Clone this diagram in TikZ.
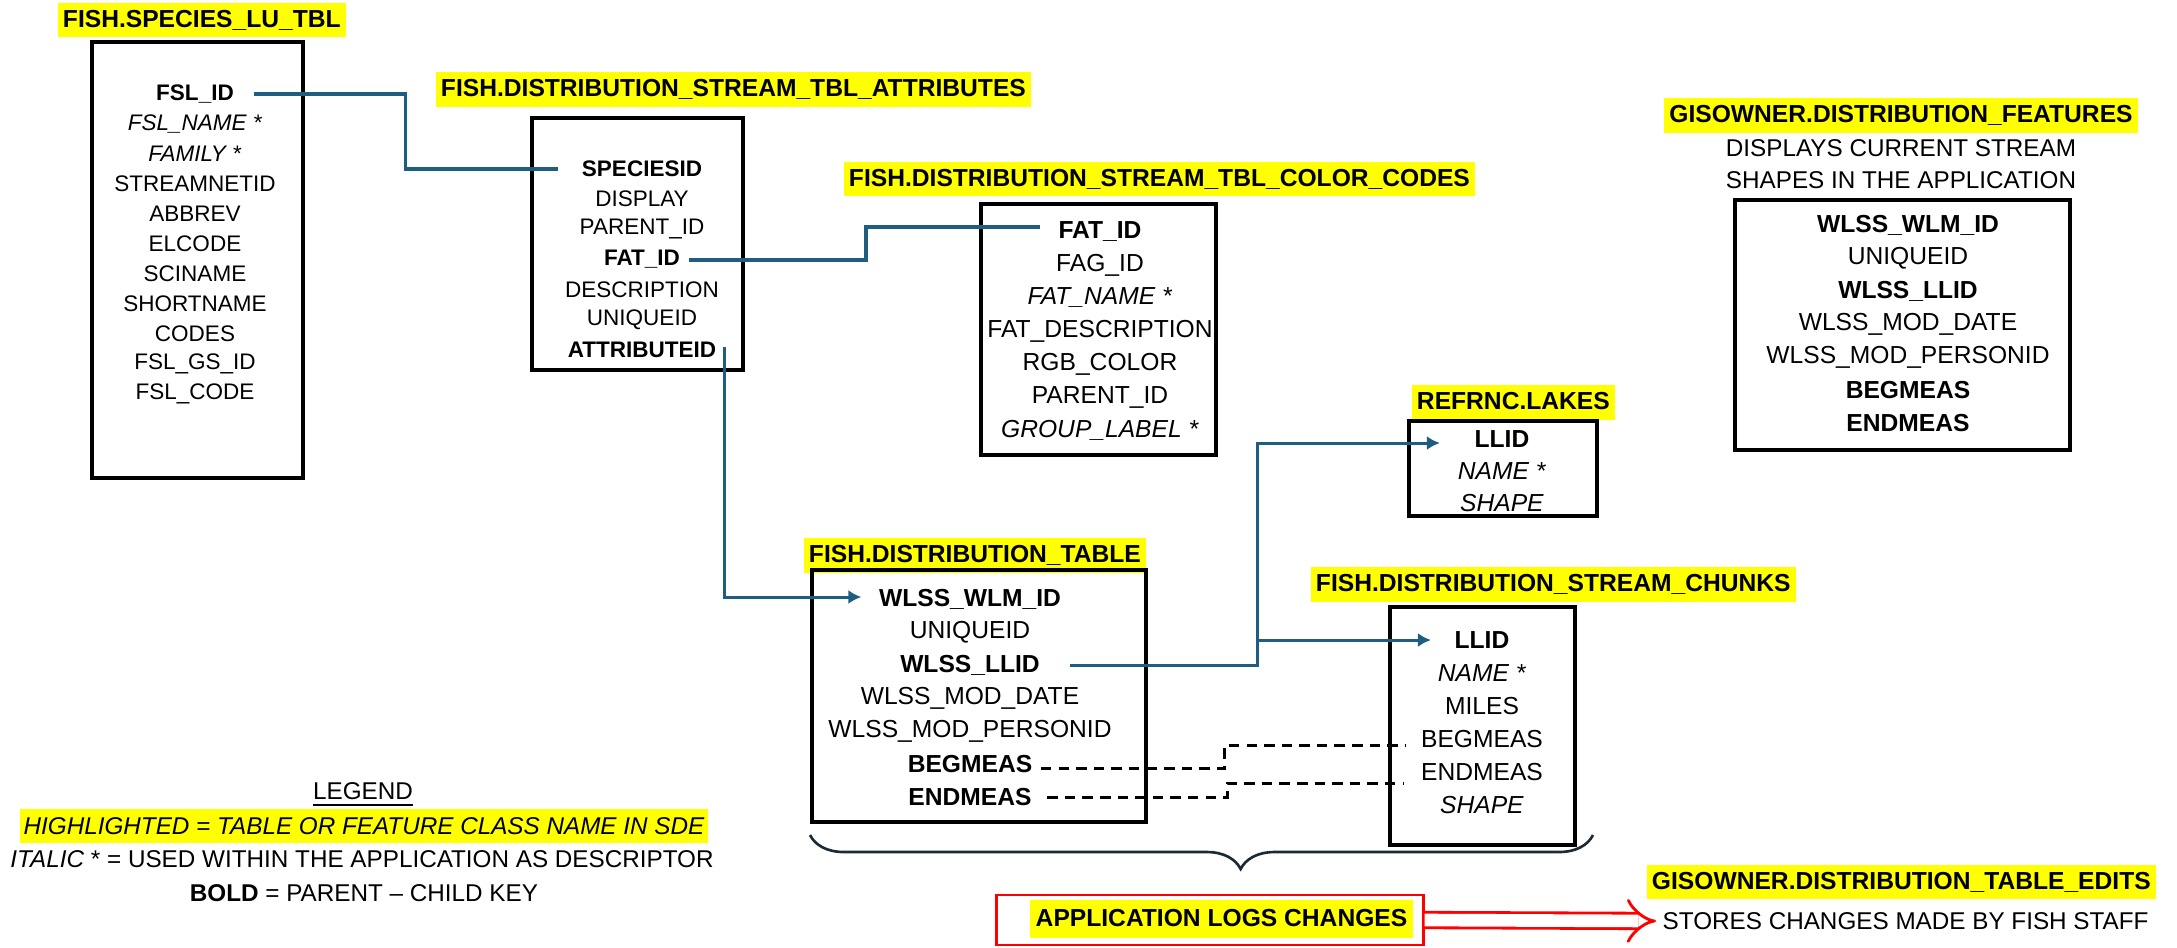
\documentclass[tikz,border=0pt]{standalone}
\usepackage{fontspec}
\setmainfont{Liberation Sans}
\usetikzlibrary{arrows.meta,positioning,calc,decorations.pathreplacing}
\definecolor{keyblue}{RGB}{31,94,128}
\definecolor{bracegray}{RGB}{27,42,52}
\definecolor{hlyellow}{RGB}{255,255,0}

\begin{document}
\begin{tikzpicture}[x=0.01cm,y=-0.01cm,
  tbl/.style={draw,line width=1.2pt,inner sep=0pt},
  hl/.style={fill=hlyellow,inner xsep=1.5pt,inner ysep=1.6pt,text height=5.3pt,
             text depth=1.3pt,font=\fontsize{7}{8}\selectfont\bfseries},
  fld/.style={inner sep=0pt,font=\fontsize{7}{8}\selectfont},
  fldsm/.style={inner sep=0pt,font=\fontsize{6.4}{7}\selectfont},
  note/.style={inner sep=0pt,font=\fontsize{6.9}{8}\selectfont},
  keyln/.style={draw=keyblue,line width=1.1pt},
  refarr/.style={draw=keyblue,line width=0.85pt,-{Latex[length=1.3mm,width=1.4mm]}},
  msr/.style={line width=0.85pt,dash pattern=on 3pt off 2pt},
  logbox/.style={draw=red,line width=0.8pt,inner sep=0pt},
  logarr/.style={draw=red,line width=0.8pt,double=white,double distance=3.6pt,-{Implies[scale=1.9]}},
  brc/.style={draw=bracegray,line width=0.75pt,decorate,
              decoration={brace,mirror,amplitude=0.34cm,aspect=0.55}}]

  \useasboundingbox (0,0) rectangle (2177,947);

  % FISH.SPECIES_LU_TBL
  \node[hl,anchor=west] (spct) at (57,20) {FISH.SPECIES\_LU\_TBL};
  \node[tbl,minimum width=2.11cm,minimum height=4.36cm] (spc) at (197.5,260) {};
  \foreach \f [count=\i from 0] in {\textbf{FSL\_ID},\textit{FSL\_NAME *},\textit{FAMILY *},
      STREAMNETID,ABBREV,ELCODE,SCINAME,SHORTNAME,CODES,FSL\_GS\_ID,FSL\_CODE}
    \node[fldsm] (spc\i) at (195,{94+30*\i}) {\f};

  % FISH.DISTRIBUTION_STREAM_TBL_ATTRIBUTES
  \node[hl,anchor=west] (attt) at (435,89.5) {FISH.DISTRIBUTION\_STREAM\_TBL\_ATTRIBUTES};
  \node[tbl,minimum width=2.11cm,minimum height=2.52cm] (att) at (637.5,244) {};
  \foreach \f [count=\i from 0] in {\textbf{SPECIESID},DISPLAY,PARENT\_ID,\textbf{FAT\_ID},
      DESCRIPTION,UNIQUEID,\textbf{ATTRIBUTEID}}
    \node[fldsm] (att\i) at (642,{169+30.2*\i}) {\f};

  % FISH.DISTRIBUTION_STREAM_TBL_COLOR_CODES
  \node[hl,anchor=west] (clrt) at (843,179) {FISH.DISTRIBUTION\_STREAM\_TBL\_COLOR\_CODES};
  \node[tbl,minimum width=2.35cm,minimum height=2.51cm] (clr) at (1098.5,329.5) {};
  \foreach \f [count=\i from 0] in {\textbf{FAT\_ID},FAG\_ID,\textit{FAT\_NAME *},FAT\_DESCRIPTION,
      RGB\_COLOR,PARENT\_ID,\textit{GROUP\_LABEL *}}
    \node[fld] (clr\i) at (1100,{232+33*\i}) {\f};

  % GISOWNER.DISTRIBUTION_FEATURES
  \node[hl] (gist) at (1901,115.5) {GISOWNER.DISTRIBUTION\_FEATURES};
  \node[note] (gisd1) at (1901,148) {DISPLAYS CURRENT STREAM};
  \node[note] (gisd2) at (1901,180) {SHAPES IN THE APPLICATION};
  \node[tbl,minimum width=3.35cm,minimum height=2.50cm] (gis) at (1902.5,325) {};
  \foreach \f [count=\i from 0] in {\textbf{WLSS\_WLM\_ID},UNIQUEID,\textbf{WLSS\_LLID},WLSS\_MOD\_DATE,
      WLSS\_MOD\_PERSONID,\textbf{BEGMEAS},\textbf{ENDMEAS}}
    \node[fld] (gis\i) at (1908,{225+33*\i}) {\f};

  % REFRNC.LAKES
  \node[hl,anchor=west] (lakt) at (1411,402.5) {REFRNC.LAKES};
  \node[tbl,minimum width=1.88cm,minimum height=0.95cm] (lak) at (1503,468.5) {};
  \foreach \f [count=\i from 0] in {\textbf{LLID},\textit{NAME *},\textit{SHAPE}}
    \node[fld] (lak\i) at (1502,{439+32*\i}) {\f};

  % FISH.DISTRIBUTION_TABLE
  \node[hl,anchor=west] (dstt) at (803,555.5) {FISH.DISTRIBUTION\_TABLE};
  \node[tbl,minimum width=3.34cm,minimum height=2.52cm] (dst) at (979,696) {};
  \foreach \f [count=\i from 0] in {\textbf{WLSS\_WLM\_ID},UNIQUEID,\textbf{WLSS\_LLID},WLSS\_MOD\_DATE,
      WLSS\_MOD\_PERSONID,\textbf{BEGMEAS},\textbf{ENDMEAS}}
    \node[fld] (dst\i) at (970,{599+33*\i}) {\f};

  % FISH.DISTRIBUTION_STREAM_CHUNKS
  \node[hl,anchor=west] (chkt) at (1310,584.5) {FISH.DISTRIBUTION\_STREAM\_CHUNKS};
  \node[tbl,minimum width=1.85cm,minimum height=2.38cm] (chk) at (1482.5,726) {};
  \foreach \f [count=\i from 0] in {\textbf{LLID},\textit{NAME *},MILES,BEGMEAS,ENDMEAS,\textit{SHAPE}}
    \node[fld] (chk\i) at (1482,{640+33*\i}) {\f};

  % keys
  \draw[keyln] ([xshift=2mm]spc0.east) -- ++(151,0) |- ([xshift=-2.3mm]att0.west);
  \draw[keyln] ([xshift=0.8mm]att3.east) -- ++(177,0) |- ([xshift=-1.8mm,yshift=0.5mm]clr0.west);
  \draw[refarr] ([xshift=0.8mm,yshift=0.3mm]att6.east) |- ([xshift=-1.7mm,yshift=0.2mm]dst0.west);
  \draw[refarr] ([xshift=3mm]dst2.east) -- ++(187,0) coordinate (llj)
    |- ([xshift=-3.4mm,yshift=-0.4mm]lak0.west);
  \draw[refarr] (llj |- chk0) -- ([xshift=-2.3mm]chk0.west);
  \draw[msr] ([xshift=0.8mm,yshift=-0.4mm]dst5.east) -- ++(184,0)
    |- ([xshift=-1.4mm,yshift=-0.6mm]chk3.west);
  \draw[msr] ([xshift=1.5mm]dst6.east) -- ++(180,0) |- ([xshift=-1.7mm,yshift=-1.1mm]chk4.west);

  % legend
  \node[note] (lgdt) at (363,795) {\underline{LEGEND}};
  \node[note,fill=hlyellow,inner xsep=1pt,inner ysep=2.5pt] (lgd1) at (364,826)
    {\itshape HIGHLIGHTED = TABLE OR FEATURE CLASS NAME IN SDE};
  \node[note] (lgd2) at (362,859) {\textit{ITALIC} * = USED WITHIN THE APPLICATION AS DESCRIPTOR};
  \node[note] (lgd3) at (364,893) {\textbf{BOLD} = PARENT – CHILD KEY};

  % edits
  \draw[brc] (810,835) -- (1593,835);
  \node[logbox,minimum width=4.26cm,minimum height=0.5cm] (applog) at (1210,920) {};
  \node[hl,inner ysep=2pt] (applogt) at (1221.5,919) {APPLICATION LOGS CHANGES};
  \node[hl,anchor=west] (edt) at (1646,882) {GISOWNER.DISTRIBUTION\_TABLE\_EDITS};
  \node[note,anchor=west] (stores) at (1662,921) {STORES CHANGES MADE BY FISH STAFF};
  \draw[logarr] (applog.east) -- ([xshift=-0.6mm]stores.west);
\end{tikzpicture}
\end{document}
